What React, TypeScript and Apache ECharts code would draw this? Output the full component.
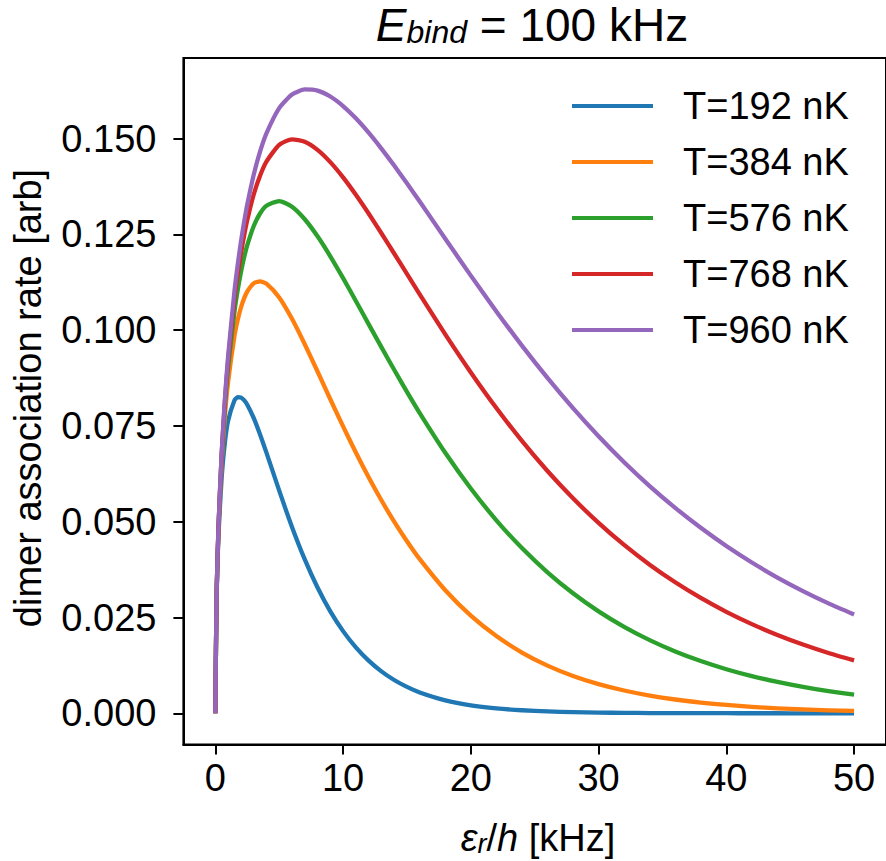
import React, { useEffect, useRef } from "react";
import * as echarts from "echarts";

const energies = [0, 0.1, 0.25, 0.5, 0.75, 1, 1.5, 1.75, 2, 2.25, 2.5, 3, 3.5, 4, 5, 6, 7, 8, 9, 10, 11, 12, 13, 14, 15, 16, 18, 20, 22, 24, 26, 28, 30, 32, 34, 36, 38, 40, 42, 44, 46, 48, 50];

const t192 = [0, 0.03078, 0.04674, 0.06178, 0.07073, 0.07635, 0.08171, 0.0825, 0.08245, 0.08175, 0.08055, 0.07712, 0.0728, 0.06803, 0.05811, 0.04864, 0.04016, 0.03282, 0.02661, 0.02145, 0.01721, 0.01375, 0.01095, 0.00869, 0.00689, 0.00545, 0.00339, 0.00209, 0.00129, 0.00079, 0.00048, 0.0003, 0.00018, 0.00011, 0.00007, 0.00004, 0.00002, 0.00002, 0.00001, 0.00001, 0, 0, 0];
const t384 = [0, 0.03117, 0.04822, 0.06577, 0.07769, 0.08651, 0.09856, 0.10267, 0.10586, 0.1083, 0.1101, 0.11221, 0.11276, 0.11215, 0.10856, 0.10298, 0.09633, 0.08921, 0.08198, 0.07488, 0.06806, 0.06162, 0.0556, 0.05003, 0.04491, 0.04023, 0.03212, 0.02549, 0.02015, 0.01586, 0.01245, 0.00975, 0.00762, 0.00595, 0.00463, 0.0036, 0.0028, 0.00217, 0.00169, 0.00131, 0.00101, 0.00078, 0.00061];
const t576 = [0, 0.0313, 0.04873, 0.06715, 0.08015, 0.09019, 0.10491, 0.11044, 0.11506, 0.11894, 0.12219, 0.12715, 0.13046, 0.13249, 0.13371, 0.13223, 0.12896, 0.1245, 0.11928, 0.11358, 0.10763, 0.10159, 0.09557, 0.08966, 0.0839, 0.07836, 0.06799, 0.05866, 0.05038, 0.04312, 0.03679, 0.03132, 0.0266, 0.02256, 0.0191, 0.01615, 0.01364, 0.01151, 0.00971, 0.00818, 0.00688, 0.00579, 0.00487];
const t768 = [0, 0.03136, 0.04898, 0.06786, 0.08141, 0.09209, 0.10824, 0.11454, 0.11996, 0.12465, 0.12873, 0.13535, 0.14033, 0.14401, 0.14838, 0.14983, 0.1492, 0.14708, 0.14387, 0.13989, 0.13535, 0.13045, 0.1253, 0.12002, 0.11468, 0.10936, 0.09892, 0.08898, 0.07968, 0.07109, 0.06324, 0.05612, 0.0497, 0.04394, 0.03878, 0.03419, 0.03011, 0.02649, 0.02328, 0.02045, 0.01795, 0.01575, 0.01381];
const t960 = [0, 0.0314, 0.04913, 0.06828, 0.08218, 0.09325, 0.11029, 0.11707, 0.123, 0.1282, 0.13281, 0.14052, 0.14661, 0.15139, 0.15796, 0.1615, 0.16285, 0.16255, 0.161, 0.15851, 0.15531, 0.15156, 0.14741, 0.14297, 0.13834, 0.13357, 0.12388, 0.11425, 0.1049, 0.09596, 0.08753, 0.07964, 0.07232, 0.06555, 0.05932, 0.05362, 0.04842, 0.04367, 0.03936, 0.03544, 0.0319, 0.02869, 0.0258];

const seriesNames = ["T=192 nK", "T=384 nK", "T=576 nK", "T=768 nK", "T=960 nK"];
const seriesValues = [t192, t384, t576, t768, t960];
const colors = ["#1f77b4", "#ff7f0e", "#2ca02c", "#d62728", "#9467bd"];

const xTicks = [0, 10, 20, 30, 40, 50];
const yTicks = [0, 0.025, 0.05, 0.075, 0.1, 0.125, 0.15];

const FONT = "'Liberation Sans', Arial, Helvetica, sans-serif";

export default function App() {
  const ref = useRef<HTMLDivElement>(null);
  useEffect(() => {
    if (!ref.current) return;
    const chart = echarts.init(ref.current, undefined, { renderer: "svg" });
    const option = {
      animation: false,
      backgroundColor: "#ffffff",
      grid: {
        show: true,
        left: 183.4,
        top: 58,
        width: 705.4,
        height: 686.5,
        borderColor: "#000",
        borderWidth: 2,
        backgroundColor: "transparent",
        containLabel: false,
      },
      xAxis: {
        type: "value",
        min: -2.5,
        max: 52.5,
        axisLine: { show: true, onZero: false, lineStyle: { color: "#000", width: 2 } },
        axisTick: { show: true, customValues: xTicks, length: 10, inside: false, lineStyle: { color: "#000", width: 2 } },
        axisLabel: { show: true, customValues: xTicks, margin: 14, color: "#000", fontSize: 38, fontFamily: FONT },
        splitLine: { show: false },
      },
      yAxis: {
        type: "value",
        min: -0.008145,
        max: 0.17105,
        axisLine: { show: true, onZero: false, lineStyle: { color: "#000", width: 2 } },
        axisTick: { show: true, customValues: yTicks, length: 10, inside: false, lineStyle: { color: "#000", width: 2 } },
        axisLabel: {
          show: true,
          customValues: yTicks,
          margin: 27,
          color: "#000",
          fontSize: 38,
          fontFamily: FONT,
          formatter: (v: number) => v.toFixed(3),
        },
        splitLine: { show: false },
      },
      legend: {
        orient: "vertical",
        left: 572,
        top: 86,
        padding: 0,
        icon: "rect",
        itemWidth: 81,
        itemHeight: 4,
        itemGap: 16,
        data: seriesNames,
        textStyle: { fontSize: 38, fontFamily: FONT, color: "#000", lineHeight: 40, padding: [0, 0, 0, 25] },
      },
      graphic: [
        {
          type: "text",
          x: 532,
          y: 22,
          style: {
            text: "{e|E}{s|bind}{n| = 100 kHz}",
            align: "center",
            verticalAlign: "middle",
            fill: "#000",
            fontFamily: FONT,
            fontSize: 46,
            rich: {
              e: { fontSize: 46, fontStyle: "italic", fontFamily: FONT, lineHeight: 52, verticalAlign: "bottom" },
              s: { fontSize: 32, fontStyle: "italic", fontFamily: FONT, lineHeight: 25, verticalAlign: "bottom" },
              n: { fontSize: 46, fontFamily: FONT, lineHeight: 52, verticalAlign: "bottom" },
            },
          },
        },
        {
          type: "text",
          x: 538,
          y: 834,
          style: {
            text: "{e|ε}{s|r}{n|/}{e|h}{n| [kHz]}",
            align: "center",
            verticalAlign: "middle",
            fill: "#000",
            fontFamily: FONT,
            fontSize: 38,
            rich: {
              e: { fontSize: 38, fontStyle: "italic", fontFamily: FONT, lineHeight: 46, verticalAlign: "bottom" },
              s: { fontSize: 27, fontStyle: "italic", fontFamily: FONT, lineHeight: 22, verticalAlign: "bottom" },
              n: { fontSize: 38, fontFamily: FONT, lineHeight: 46, verticalAlign: "bottom" },
            },
          },
        },
        {
          type: "text",
          x: 28,
          y: 398,
          rotation: Math.PI / 2,
          style: {
            text: "dimer association rate [arb]",
            align: "center",
            verticalAlign: "middle",
            fill: "#000",
            fontFamily: FONT,
            fontSize: 38,
          },
        },
      ],
      series: seriesNames.map((name, i) => ({
        name,
        type: "line",
        showSymbol: false,
        symbol: "none",
        smooth: 0.2,
        color: colors[i],
        lineStyle: { width: 4.3, color: colors[i], join: "round", cap: "butt" },
        data: energies.map((e, j) => [e, seriesValues[i][j]]),
      })),
    };
    chart.setOption(option as any);
    return () => chart.dispose();
  }, []);
  return (
    <div
      ref={ref}
      style={{ position: "absolute", left: 0, top: 0, width: 886, height: 861, background: "#fff" }}
    />
  );
}
